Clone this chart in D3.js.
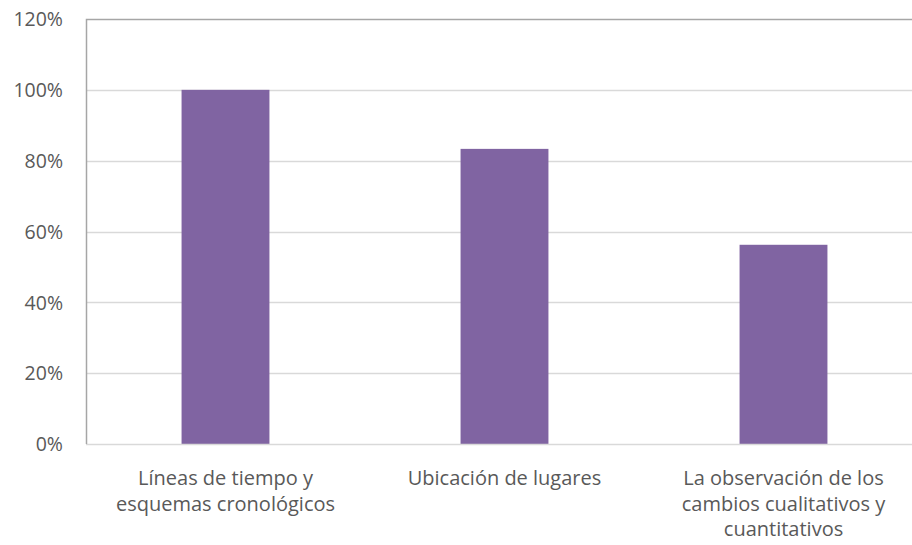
<!DOCTYPE html>
<html>
<head>
<meta charset="utf-8">
<script src="https://cdnjs.cloudflare.com/ajax/libs/d3/7.8.5/d3.min.js"></script>
<style>
  body { margin: 0; background: #fff; }
  svg { display: block; }
  text { font-family: "Open Sans", sans-serif; fill: #595959; }
</style>
</head>
<body>
<svg id="chart" width="912" height="545"></svg>
<script>
const categories = [
    ["Líneas de tiempo y", "esquemas cronológicos"],
    ["Ubicación de lugares"],
    ["La observación de los", "cambios cualitativos y", "cuantitativos"]
];
const values = [1.0, 0.8333, 0.5625];
const ticks = [0, 0.2, 0.4, 0.6, 0.8, 1.0, 1.2];

const svg = d3.select("#chart");
const plotLeft = 86, plotRight = 923, plotTop = 19, plotBottom = 444;

const x = d3.scaleBand()
    .domain(d3.range(categories.length))
    .range([plotLeft, plotRight])
    .paddingInner(0.685)
    .paddingOuter(0.3425);

const y = d3.scaleLinear()
    .domain([0, 1.2])
    .range([plotBottom, plotTop]);

// gridlines
svg.append("g")
    .selectAll("line")
    .data(ticks.slice(1, -1))
    .enter().append("line")
    .attr("x1", plotLeft)
    .attr("x2", plotRight)
    .attr("y1", d => Math.round(y(d)) + 0.5)
    .attr("y2", d => Math.round(y(d)) + 0.5)
    .attr("stroke", "#d9d9d9")
    .attr("stroke-width", 1.5);

// bars
svg.append("g")
    .selectAll("rect")
    .data(values)
    .enter().append("rect")
    .attr("x", (d, i) => x(i))
    .attr("y", d => y(d))
    .attr("width", x.bandwidth())
    .attr("height", d => plotBottom - y(d))
    .attr("fill", "#8064a2");

// bottom axis line
svg.append("line")
    .attr("x1", plotLeft).attr("x2", plotRight)
    .attr("y1", plotBottom + 0.5).attr("y2", plotBottom + 0.5)
    .attr("stroke", "#d9d9d9")
    .attr("stroke-width", 1.5);

// top and left border
svg.append("path")
    .attr("d", `M${plotLeft + 0.5},${plotBottom}V${plotTop + 0.5}H${plotRight}`)
    .attr("fill", "none")
    .attr("stroke", "#a6a6a6")
    .attr("stroke-width", 1.5);

// y labels
const yAxis = d3.axisLeft(y)
    .tickValues(ticks)
    .tickFormat(d3.format(".0%"))
    .tickSize(0)
    .tickPadding(0);

const yg = svg.append("g")
    .attr("transform", "translate(63,0)")
    .call(yAxis);
yg.select(".domain").remove();
yg.attr("font-family", null).attr("font-size", null);
yg.selectAll("text")
    .style("font-size", "19.5px")
    .attr("dy", "0.35em");

// category labels
const labels = svg.append("g")
    .selectAll("text")
    .data(categories)
    .enter().append("text")
    .attr("text-anchor", "middle")
    .attr("x", (d, i) => x(i) + x.bandwidth() / 2)
    .attr("y", 485)
    .style("font-size", "20px");

labels.selectAll("tspan")
    .data(d => d)
    .enter().append("tspan")
    .attr("x", function() { return d3.select(this.parentNode).attr("x"); })
    .attr("dy", (d, i) => i === 0 ? 0 : 25.5)
    .text(d => d);
</script>
</body>
</html>
